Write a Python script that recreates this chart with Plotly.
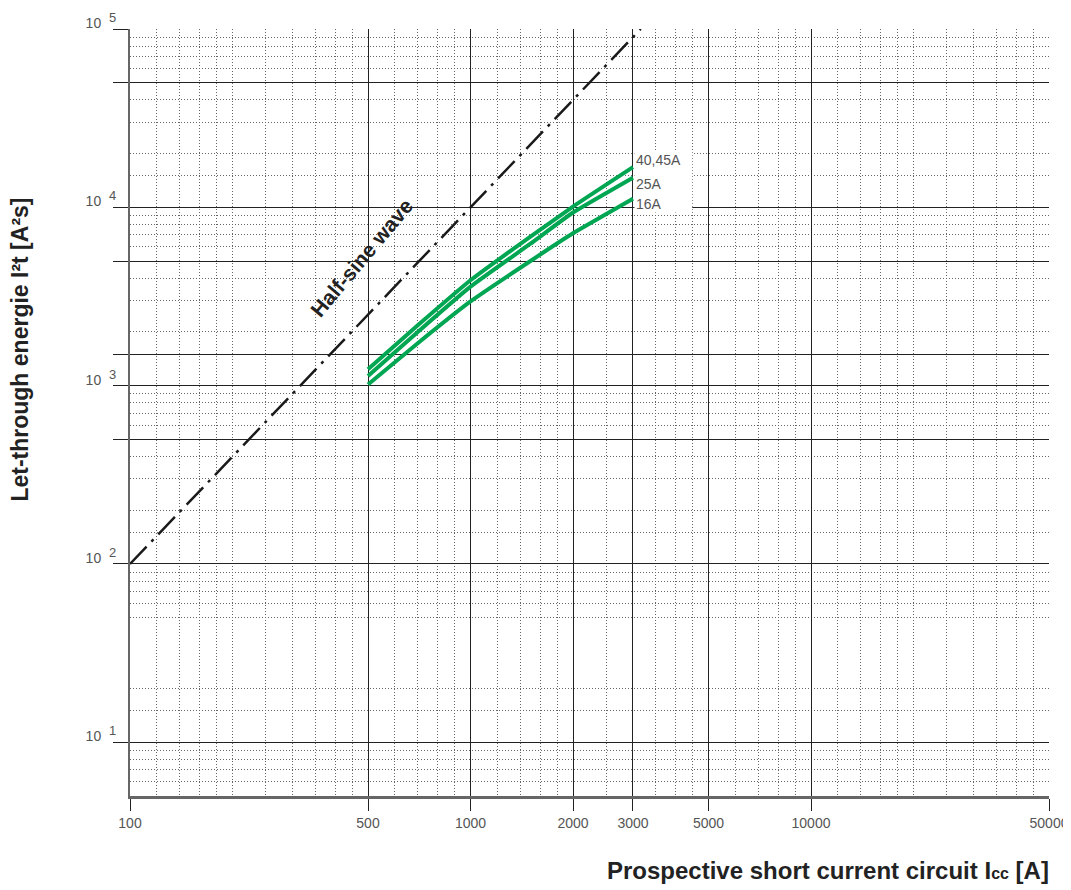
import math

import plotly.graph_objects as go

# ── Data ────────────────────────────────────────────────────────────────────
CURRENT = [500, 700, 1000, 1500, 2000, 3000]
I2T_40_45A = [1236, 2180, 3900, 6850, 10100, 16800]
I2T_25A = [1132, 2000, 3590, 6250, 9350, 14660]
I2T_16A = [1016, 1730, 2966, 5000, 7150, 11170]

HALF_SINE_X = [100, 3162]
HALF_SINE_Y = [100, 100000]

CURVE_LABELS = ["40,45A", "25A", "16A"]

X_MAJOR = [100, 500, 1000, 2000, 3000, 5000, 10000, 50000]
X_MAJOR_TEXT = ["100", "500", "1000", "2000", "3000", "5000", "10000", "50000"]
X_MINOR = [120, 140, 160, 180, 200, 250, 300, 350, 400, 450,
           600, 700, 800, 900,
           1200, 1400, 1600, 1800, 2500, 3500, 4000, 4500,
           6000, 7000, 8000, 9000,
           12000, 14000, 16000, 18000, 20000, 25000, 30000, 35000, 40000, 45000]

Y_MAJOR = [10, 100, 500, 1000, 1500, 5000, 10000, 50000, 100000]
Y_EXP = ["1", "2", "", "3", "", "", "4", "", "5"]
Y_MINOR = [6, 7, 8, 9,
           15, 20, 50, 60, 70, 80, 90,
           150, 200, 300, 400, 600, 700, 800, 900,
           2000, 3000, 4000, 6000, 7000, 8000, 9000,
           15000, 20000, 30000, 40000, 60000, 70000, 80000, 90000]

GREEN = "#00a651"
FONT = "Liberation Sans, Arial, sans-serif"

y_text = [f"10&nbsp; <sup><span style='font-size:13px'>{e}</span></sup>" if e else ""
          for e in Y_EXP]

fig = go.Figure()

# Half-sine reference line
fig.add_trace(go.Scatter(
    x=HALF_SINE_X, y=HALF_SINE_Y, mode="lines",
    line=dict(color="#1a1a1a", width=2.5, dash="24px,7px,3px,7px"),
    showlegend=False, hoverinfo="skip",
))

for ys in (I2T_40_45A, I2T_25A, I2T_16A):
    fig.add_trace(go.Scatter(
        x=CURRENT, y=ys, mode="lines",
        line=dict(color=GREEN, width=4, shape="spline", smoothing=0.4),
        showlegend=False,
    ))

# white box behind curve labels
fig.add_shape(type="rect", xref="x", yref="y", x0=3030, x1=4480, y0=9360, y1=20900,
              fillcolor="white", line_width=0, layer="above")

for label, ys, shift in zip(CURVE_LABELS, (I2T_40_45A, I2T_25A, I2T_16A), (7, -6, -5)):
    fig.add_annotation(
        x=math.log10(CURRENT[-1]), y=math.log10(ys[-1]), xref="x", yref="y", text=label,
        showarrow=False, xanchor="left", yanchor="middle", xshift=1, yshift=shift,
        font=dict(family=FONT, size=14, color="#555555"),
    )

fig.add_annotation(
    x=math.log10(480), y=math.log10(5200), xref="x", yref="y", text="<b>Half-sine wave</b>",
    showarrow=False, textangle=-50,
    font=dict(family=FONT, size=21, color="#222222"),
)

# axis titles
fig.add_annotation(
    x=-0.1197, y=0.582, xref="paper", yref="paper", xanchor="center", yanchor="middle",
    text="<b>Let-through energie I²t [A²s]</b>", showarrow=False, textangle=-90,
    font=dict(family=FONT, size=23, color="#222222"),
)
fig.add_annotation(
    x=1.002, y=-0.097, xref="paper", yref="paper", xanchor="right", yanchor="middle",
    text="<b>Prospective short current circuit I<span style='font-size:16px'>cc</span> [A]</b>",
    showarrow=False,
    font=dict(family=FONT, size=24, color="#222222"),
)

fig.update_xaxes(
    type="log", range=[2, 4.69897], automargin=False,
    tickmode="array", tickvals=X_MAJOR, ticktext=X_MAJOR_TEXT,
    ticks="outside", ticklen=12, tickwidth=1.4, tickcolor="#222222",
    showgrid=True, gridcolor="#222222", gridwidth=1.2,
    minor=dict(tickmode="array", tickvals=X_MINOR, showgrid=True,
               gridcolor="#666666", gridwidth=1, griddash="1px,2px", ticks=""),
    showline=True, linecolor="#666666", linewidth=2.5,
    zeroline=False, tickfont=dict(family=FONT, size=14, color="#555555"),
)
fig.update_yaxes(
    type="log", range=[0.69897, 5], automargin=False,
    tickmode="array", tickvals=Y_MAJOR, ticktext=y_text,
    ticks="outside", ticklen=15, tickwidth=1.4, tickcolor="#222222",
    ticklabelshift=-6, ticklabelstandoff=-6,
    showgrid=True, gridcolor="#222222", gridwidth=1.2,
    minor=dict(tickmode="array", tickvals=Y_MINOR, showgrid=True,
               gridcolor="#666666", gridwidth=1, griddash="1px,2px", ticks=""),
    showline=True, linecolor="#666666", linewidth=2,
    zeroline=False, tickfont=dict(family=FONT, size=14, color="#555555"),
)

# page body has an 8px margin, so the figure is sized to fit the window
fig.update_layout(
    width=1063, height=880,
    plot_bgcolor="white", paper_bgcolor="white",
    margin=dict(l=122, r=22, t=21, b=92),
    showlegend=False,
)

fig.write_html("out.html")
